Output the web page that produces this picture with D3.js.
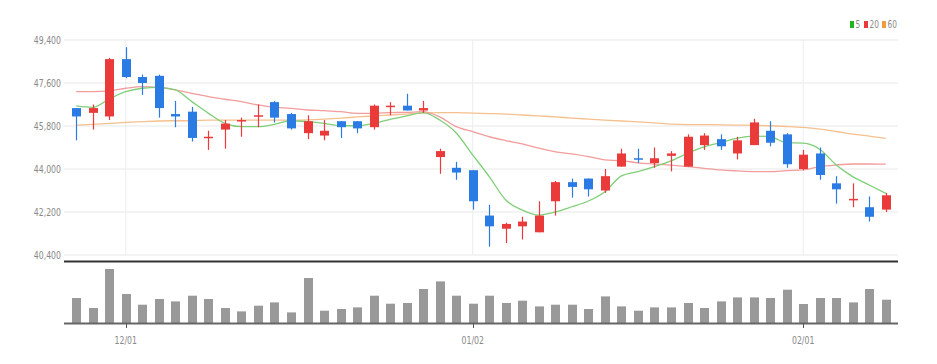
<!DOCTYPE html>
<html>
<head>
<meta charset="utf-8">
<script src="https://cdn.jsdelivr.net/npm/d3@7"></script>
<style>
  body { margin: 0; background: #fff; }
  text { font-family: "DejaVu Sans", sans-serif; }
</style>
</head>
<body>
<div id="chart"></div>
<script>
// trading days
const dates = [
    "2022-11-28", "2022-11-29", "2022-11-30",
    "2022-12-01", "2022-12-02", "2022-12-05", "2022-12-06", "2022-12-07", "2022-12-08", "2022-12-09",
    "2022-12-12", "2022-12-13", "2022-12-14", "2022-12-15", "2022-12-16", "2022-12-19", "2022-12-20",
    "2022-12-21", "2022-12-22", "2022-12-23", "2022-12-26", "2022-12-27", "2022-12-28", "2022-12-29",
    "2023-01-02", "2023-01-03", "2023-01-04", "2023-01-05", "2023-01-06", "2023-01-09", "2023-01-10",
    "2023-01-11", "2023-01-12", "2023-01-13", "2023-01-16", "2023-01-17", "2023-01-18", "2023-01-19",
    "2023-01-20", "2023-01-25", "2023-01-26", "2023-01-27", "2023-01-30", "2023-01-31",
    "2023-02-01", "2023-02-02", "2023-02-03", "2023-02-06", "2023-02-07", "2023-02-08"
];

const open = [46550, 46350, 46200, 48600, 47850, 47900, 46300, 46400, 45300, 45650,
    46000, 46200, 46800, 46300, 45500, 45400, 46000, 46000, 45750, 46600,
    46650, 46450, 44500, 44050, 43950, 42050, 41500, 41600, 41350, 42650,
    43450, 43600, 43100, 44100, 44450, 44250, 44550, 44100, 45000, 45250,
    44650, 45000, 45600, 45450, 44000, 44650, 43400, 42700, 42400, 42300];
const high = [46550, 46700, 48650, 49100, 47950, 47950, 46850, 46600, 45600, 46050,
    46150, 46700, 46850, 46350, 46250, 46050, 46000, 46000, 46700, 46800,
    47150, 46850, 44850, 44300, 43950, 42500, 41750, 42000, 42650, 43500,
    43600, 43600, 44000, 44850, 44850, 44900, 44750, 45450, 45500, 45450,
    45350, 46100, 46000, 45500, 44800, 44900, 43700, 43400, 42850, 43000];
const low = [45200, 45650, 46050, 47800, 47100, 46150, 45750, 45150, 44800, 44850,
    45350, 45750, 45950, 45650, 45250, 45200, 45300, 45500, 45650, 46250,
    46450, 46350, 43800, 43550, 42300, 40750, 40900, 41050, 41350, 42050,
    42800, 42850, 43000, 44100, 44250, 44050, 43900, 44100, 44800, 44800,
    44400, 45000, 44950, 44050, 43950, 43550, 42550, 42400, 41800, 42200];
const close = [46200, 46550, 48600, 47850, 47600, 46550, 46200, 45300, 45350, 45900,
    46050, 46250, 46150, 45700, 46000, 45600, 45750, 45700, 46650, 46650,
    46450, 46550, 44750, 43850, 42650, 41600, 41700, 41800, 42050, 43450,
    43250, 43150, 43700, 44650, 44400, 44450, 44650, 45350, 45400, 44950,
    45200, 45950, 45100, 44200, 44600, 43750, 43150, 42750, 42000, 42900];

// volume (thousand shares)
const volume = [250, 150, 540, 290, 183, 240, 216, 273, 240, 150,
    116, 173, 206, 106, 450, 123, 140, 156, 273, 193,
    200, 340, 416, 273, 193, 273, 200, 223, 166, 183,
    183, 140, 266, 166, 123, 156, 156, 200, 150, 216,
    256, 256, 250, 333, 190, 250, 250, 206, 340, 233];

// moving averages
const ma5 = [46640, 46580, 46930, 47240, 47380, 47420, 47310, 46820, 46330, 45910,
    45770, 45770, 45870, 46020, 45980, 45910, 45810, 45810, 45910, 46080,
    46220, 46360, 46050, 45510, 44590, 43680, 42700, 42280, 42070, 42200,
    42420, 42660, 43050, 43710, 43890, 44100, 44340, 44660, 44930, 45100,
    45290, 45380, 45350, 45100, 45080, 44830, 44170, 43680, 43330, 42980];
const ma20 = [47240, 47240, 47270, 47380, 47450, 47420, 47310, 47170, 47030, 46920,
    46820, 46680, 46580, 46540, 46470, 46440, 46400, 46330, 46330, 46360,
    46370, 46400, 46180, 45770, 45560, 45350, 45190, 45050, 44870, 44720,
    44630, 44520, 44380, 44350, 44260, 44210, 44160, 44100, 44030, 43960,
    43920, 43890, 43890, 43930, 43960, 44100, 44170, 44210, 44210, 44200];
const ma60 = [45840, 45870, 45910, 45950, 45980, 46010, 46020, 46020, 46050, 46050,
    46050, 46050, 46050, 46050, 46060, 46090, 46130, 46180, 46220, 46260,
    46300, 46340, 46360, 46360, 46340, 46320, 46300, 46260, 46220, 46180,
    46130, 46090, 46050, 46010, 45970, 45930, 45880, 45860, 45860, 45850,
    45840, 45830, 45810, 45780, 45740, 45670, 45570, 45460, 45380, 45280];

const priceTicks = [40400, 42200, 44000, 45800, 47600, 49400];
const dateTicks = ["2022-12-01", "2023-01-02", "2023-02-01"];
const dateTickLabels = ["12/01", "01/02", "02/01"];

const maNames = ["5", "20", "60"];
const maColors = ["#7fcf78", "#f29c9c", "#f5c08e"];

const upColor = "#ea3a3a";
const downColor = "#2a7be4";

const width = 937, height = 364;
const left = 64, right = 898;
const priceTop = 40, priceBottom = 255;
const volTop = 269, volBottom = 323;
const squeeze = 0.74; // labels in the original use a condensed face

const svg = d3.select("#chart")
    .append("svg")
    .attr("width", width)
    .attr("height", height);

const x = d3.scaleBand()
    .domain(dates)
    .range([left, right])
    .padding(0.48);
const cx = d => x(d) + x.bandwidth() / 2;

const y = d3.scaleLinear()
    .domain([40400, 49400])
    .range([priceBottom, priceTop]);

const yVol = d3.scaleLinear()
    .domain([0, d3.max(volume)])
    .range([volBottom, volTop]);

// grid
svg.append("g")
    .selectAll("line")
    .data(priceTicks)
    .enter()
    .append("line")
    .attr("x1", left)
    .attr("x2", right)
    .attr("y1", d => y(d))
    .attr("y2", d => y(d))
    .attr("stroke", "#e8e8e8");

svg.append("g")
    .selectAll("line")
    .data(dateTicks)
    .enter()
    .append("line")
    .attr("x1", d => cx(d))
    .attr("x2", d => cx(d))
    .attr("y1", priceTop)
    .attr("y2", priceBottom)
    .attr("stroke", "#e8edf3");

// y labels
svg.append("g")
    .selectAll("text")
    .data(priceTicks)
    .enter()
    .append("text")
    .attr("transform", d => `translate(61,${y(d)}) scale(${squeeze},1)`)
    .attr("dy", "0.35em")
    .attr("text-anchor", "end")
    .attr("font-size", 10.5)
    .attr("fill", "#888")
    .text(d => d3.format(",")(d));

// moving average lines
const maSeries = [ma5, ma20, ma60];
const line = d3.line()
    .x((d, i) => cx(dates[i]))
    .y(d => y(d))
    .curve(d3.curveMonotoneX);

svg.append("g")
    .selectAll("path")
    .data(maSeries.slice().reverse())
    .enter()
    .append("path")
    .attr("d", d => line(d))
    .attr("fill", "none")
    .attr("stroke", (d, i) => maColors[2 - i])
    .attr("stroke-width", 1.3);

// candles
const candles = dates.map((d, i) => ({ date: d, o: open[i], h: high[i], l: low[i], c: close[i] }));
const cg = svg.append("g")
    .selectAll("g")
    .data(candles)
    .enter()
    .append("g");

cg.append("line")
    .attr("x1", d => Math.round(cx(d.date)) + 0.5)
    .attr("x2", d => Math.round(cx(d.date)) + 0.5)
    .attr("y1", d => y(d.h))
    .attr("y2", d => y(d.l))
    .attr("stroke", d => d.c >= d.o ? upColor : downColor)
    .attr("stroke-width", 1.2);

cg.append("rect")
    .attr("x", d => Math.round(cx(d.date)) + 0.5 - 4.5)
    .attr("width", 9)
    .attr("y", d => y(Math.max(d.o, d.c)))
    .attr("height", d => Math.max(1.5, Math.abs(y(d.o) - y(d.c))))
    .attr("fill", d => d.c >= d.o ? upColor : downColor);

// separator
svg.append("line")
    .attr("x1", left)
    .attr("x2", right)
    .attr("y1", 261.5)
    .attr("y2", 261.5)
    .attr("stroke", "#333")
    .attr("stroke-width", 2);

// volume
svg.append("g")
    .selectAll("rect")
    .data(volume)
    .enter()
    .append("rect")
    .attr("x", (d, i) => Math.round(cx(dates[i])) + 0.5 - 4.5)
    .attr("width", 9)
    .attr("y", d => yVol(d))
    .attr("height", d => volBottom - yVol(d))
    .attr("fill", "#999");

svg.append("line")
    .attr("x1", left)
    .attr("x2", right)
    .attr("y1", volBottom + 0.5)
    .attr("y2", volBottom + 0.5)
    .attr("stroke", "#666")
    .attr("stroke-width", 2);

// x ticks and labels
const xt = svg.append("g")
    .selectAll("g")
    .data(dateTicks)
    .enter()
    .append("g");

xt.append("line")
    .attr("x1", d => Math.round(cx(d)) + 0.5)
    .attr("x2", d => Math.round(cx(d)) + 0.5)
    .attr("y1", volBottom)
    .attr("y2", volBottom + 5)
    .attr("stroke", "#555");

xt.append("text")
    .attr("transform", d => `translate(${cx(d)},340) scale(${squeeze},1)`)
    .attr("dy", "0.35em")
    .attr("text-anchor", "middle")
    .attr("font-size", 10.5)
    .attr("fill", "#888")
    .text((d, i) => dateTickLabels[i]);

// legend
const lx = [850, 864, 882];
const legend = svg.append("g")
    .selectAll("g")
    .data(maNames)
    .enter()
    .append("g")
    .attr("transform", (d, i) => `translate(${lx[i]},21)`);

legend.append("rect")
    .attr("width", 4)
    .attr("height", 7)
    .attr("fill", (d, i) => ["#1fb51f", "#e83a3a", "#f39a3c"][i]);

legend.append("text")
    .attr("transform", `translate(5.5,7) scale(${squeeze},1)`)
    .attr("font-size", 10)
    .attr("fill", "#888")
    .text(d => d);
</script>
</body>
</html>
